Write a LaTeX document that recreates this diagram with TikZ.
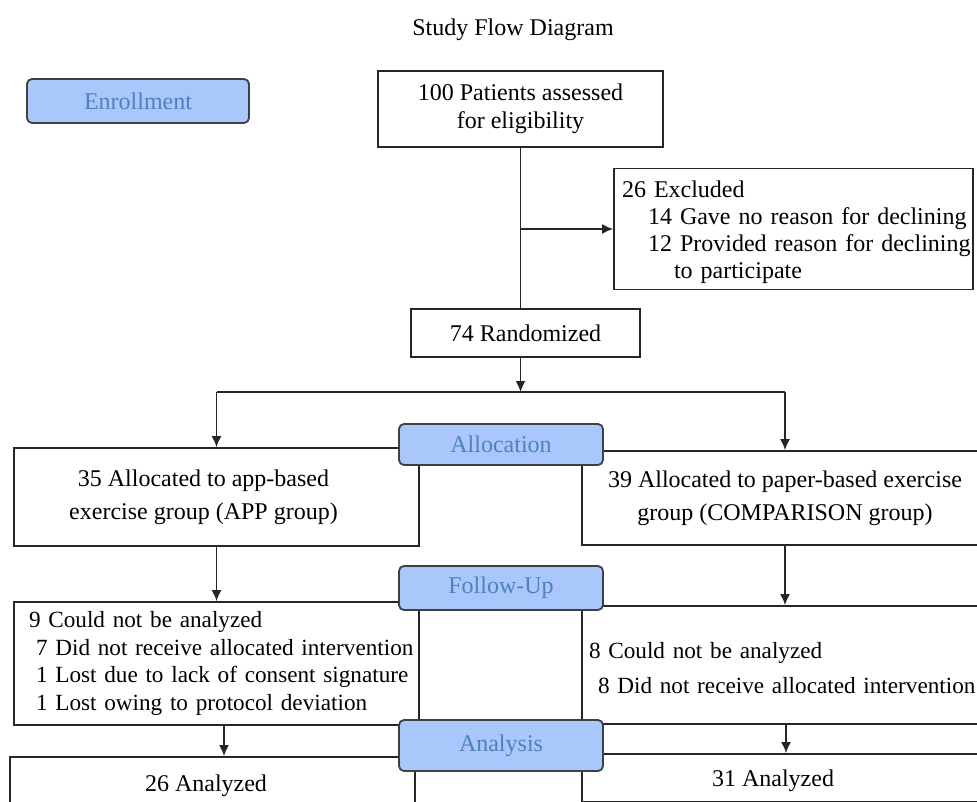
\documentclass[tikz,border=0pt]{standalone}
\usepackage{fontspec}
\setmainfont{Liberation Serif}
\usetikzlibrary{arrows.meta}
\definecolor{stagefill}{RGB}{169,199,250}
\definecolor{stagetext}{RGB}{79,129,189}
\definecolor{stageline}{RGB}{64,64,64}
\tikzset{
  box/.style={draw=black!85, line width=0.85pt, inner sep=0pt, font=\fontsize{12}{14}\selectfont},
  lowered/.style={execute at begin node={\rule{0pt}{#1}}},
  stage/.style={draw=stageline, line width=0.9pt, fill=stagefill, rounded corners=2.5pt,
    text=stagetext, minimum width=102pt, font=\fontsize{12}{14}\selectfont},
  link/.style={line width=0.85pt, draw=black!85},
  arr/.style={link, -{Latex[length=5.5pt,width=5pt]}},
}
\begin{document}
\begin{tikzpicture}[x=0.5pt,y=-0.5pt]
\useasboundingbox (0,0) rectangle (977,801);
\clip (0,0) rectangle (977,801);

\node[font=\fontsize{12}{14}\selectfont] (title) at (513,30) {Study Flow Diagram};

% enrollment
\node[box, lowered=11.5pt, minimum width=142.5pt, minimum height=38pt, align=center] (patients) at (520.5,109)
  {100 Patients assessed\\for eligibility};
\node[box, lowered=11.3pt, minimum width=179.5pt, minimum height=60.5pt, text width=171.5pt, inner xsep=4pt,
  align=left, font=\fontsize{12}{13.5}\selectfont] (excl) at (793.5,229)
  {26 Excluded\\
   \hspace*{13pt}\mbox{14 Gave no reason for declining}\\
   \hspace*{13pt}\mbox{12 Provided reason for declining}\\
   \hspace*{26pt}to participate};
\node[box, minimum width=114.5pt, minimum height=24pt] (rand) at (525.5,333) {74 Randomized};

% allocation
\node[box, lowered=12.3pt, minimum width=202.5pt, minimum height=49pt, align=center] (app) at (216.5,497)
  {35 Allocated to app-based\kern13pt\\[2.5pt]exercise group (APP group)\kern13pt};
\node[box, minimum width=203pt, minimum height=47pt, align=center] (comp) at (785,498)
  {39 Allocated to paper-based exercise\\[2.5pt]group (COMPARISON group)};

% follow-up
\node[box, minimum width=202.5pt, minimum height=61.5pt, text width=187.5pt, inner xsep=7.5pt,
  align=left, font=\fontsize{11.6}{13.7}\selectfont] (lfu) at (216.5,663.5)
  {9 Could not be analyzed\\
   \hspace*{3.5pt}\mbox{7 Did not receive allocated intervention}\\
   \hspace*{3.5pt}\mbox{1 Lost due to lack of consent signature}\\
   \hspace*{3.5pt}\mbox{1 Lost owing to protocol deviation}};
\node[box, lowered=11.3pt, minimum width=204pt, minimum height=59pt, text width=197pt, inner xsep=3.5pt,
  align=left, font=\fontsize{11.6}{14}\selectfont] (rfu) at (786,665)
  {8 Could not be analyzed\\[3.5pt]
   \hspace*{4.5pt}\mbox{8 Did not receive allocated intervention}};

% analysis
\node[box, lowered=12.3pt, minimum width=202.5pt, minimum height=25pt] (lres) at (212.5,782) {26 Analyzed\kern6.5pt};
\node[box, lowered=11.3pt, minimum width=204pt, minimum height=24pt] (rres) at (786,778) {31 Analyzed\kern13pt};

% stage labels
\node[stage, minimum width=111pt, minimum height=22pt] (enroll) at (138,101) {Enrollment};
\node[stage, minimum height=20.5pt] (alloc) at (501,444.5) {Allocation};
\node[stage, minimum height=22pt] (fu) at (501,588) {Follow-Up};
\node[stage, minimum height=25.5pt] (analysis) at (501,745.5) {Analysis};

% connectors
\coordinate (split) at (520.5,392);
\coordinate (ldrop) at ([xshift=3.75pt]lfu.south);
\draw[link] (patients.south) -- (patients.south |- rand.north);
\draw[arr] (patients.south |- excl.west) -- (excl.west);
\draw[arr] (split |- rand.south) -- (split);
\draw[link] (split -| app.north) -- (split -| comp.north);
\draw[arr] (split -| app.north) -- (app.north);
\draw[arr] (split -| comp.north) -- (comp.north);
\draw[arr] (app.south) -- (lfu.north);
\draw[arr] (comp.south) -- (comp.south |- rfu.north);
\draw[arr] (ldrop) -- (ldrop |- lres.north);
\draw[arr] (rfu.south) -- (rfu.south |- rres.north);
\end{tikzpicture}
\end{document}
